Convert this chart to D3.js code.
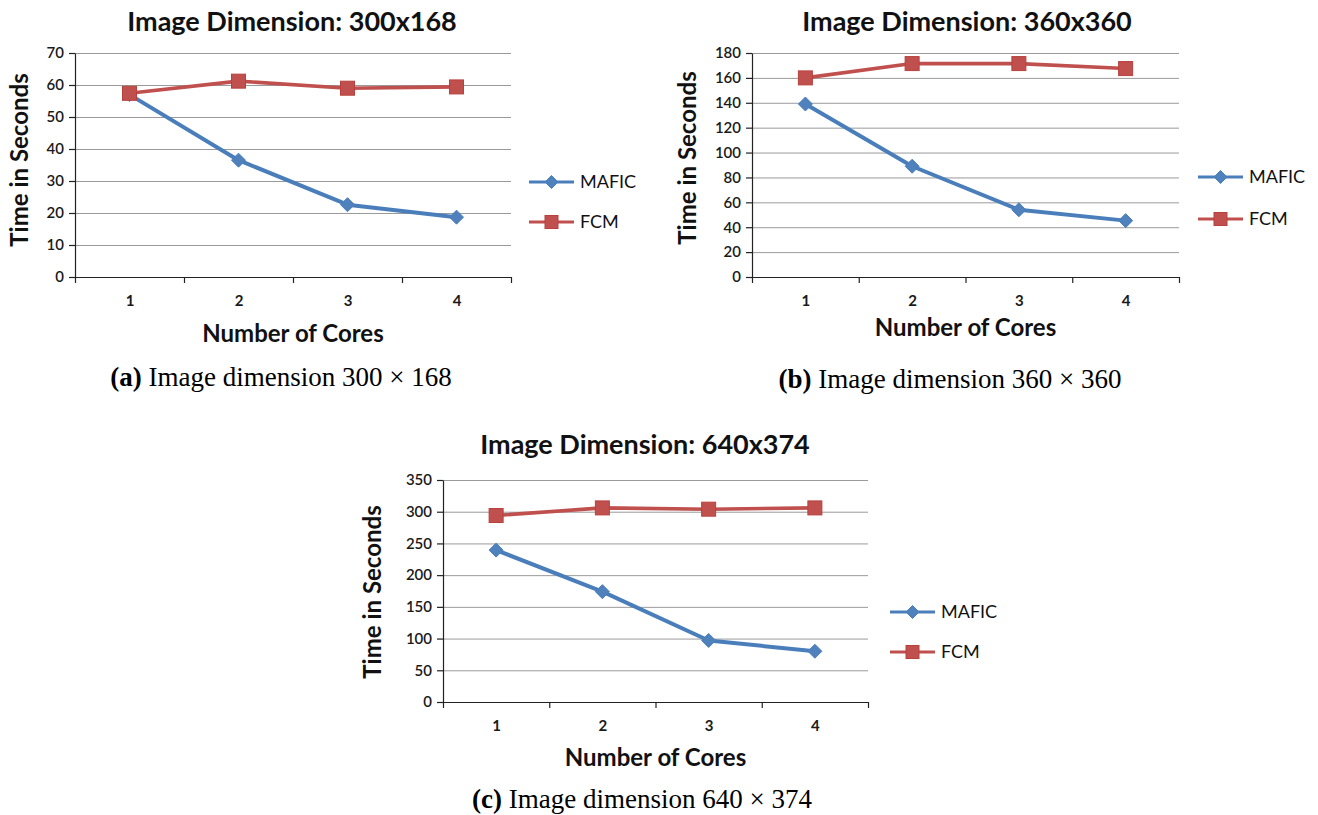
<!DOCTYPE html>
<html>
<head>
<meta charset="utf-8">
<script src="https://cdn.jsdelivr.net/npm/d3@7/dist/d3.min.js"></script>
<style>
  html, body { margin: 0; padding: 0; background: #fff; }
  svg { display: block; }
  .grid line { stroke: #9a9a9a; stroke-width: 1; }
  .grid path { display: none; }
  .eje path, .eje line { stroke: #222; stroke-width: 1.2; }
  .eje text { font-family: Lato, "Open Sans", sans-serif; fill: #1a1a1a; }
</style>
</head>
<body>
<svg id="lienzo" width="1318" height="815"></svg>
<script>
// tres graficos de linea (tiempo vs nucleos) en una sola lamina

var nucleos = [1, 2, 3, 4];
var nombresSeries = ["MAFIC", "FCM"];

// valores, en segundos
var maficA = [57.0, 36.5, 22.6, 18.7];
var fcmA = [57.4, 61.2, 59.0, 59.4];
var maficB = [139.0, 89.0, 54.0, 45.3];
var fcmB = [160.0, 171.5, 171.5, 167.5];
var maficC = [239.5, 174.0, 97.0, 80.0];
var fcmC = [294.0, 306.0, 304.0, 306.0];

var ticksA = [0, 10, 20, 30, 40, 50, 60, 70];
var ticksB = [0, 20, 40, 60, 80, 100, 120, 140, 160, 180];
var ticksC = [0, 50, 100, 150, 200, 250, 300, 350];

var titulos = ["Image Dimension: 300x168", "Image Dimension: 360x360", "Image Dimension: 640x374"];
var letras = ["(a)", "(b)", "(c)"];
var leyendas = ["Image dimension 300 \u00d7 168", "Image dimension 360 \u00d7 360", "Image dimension 640 \u00d7 374"];

var AZUL = "#4a7ebb";
var AZUL_MARCA = "#4f81bd";
var ROJO = "#c0504d";
var SANS = "Lato, 'Open Sans', sans-serif";
var SERIF = "'Liberation Serif', 'Times New Roman', serif";

var svg = d3.select("#lienzo");

// posiciones de cada panel, medidas sobre la imagen original
var paneles = [
  { mafic: maficA, fcm: fcmA, ticks: ticksA, i: 0,
    izq: 75, der: 511, arr: 53, abj: 277,
    tituloX: 292, tituloY: 31, ejeYX: 20, ejeYY: 160, ejeXY: 334,
    pieX: 281, pieY: 386, leyX: 529, leyY: [182, 222] },
  { mafic: maficB, fcm: fcmB, ticks: ticksB, i: 1,
    izq: 752, der: 1179, arr: 53, abj: 277,
    tituloX: 967, tituloY: 31, ejeYX: 688, ejeYY: 158, ejeXY: 328,
    pieX: 950, pieY: 388, leyX: 1198, leyY: [177, 219] },
  { mafic: maficC, fcm: fcmC, ticks: ticksC, i: 2,
    izq: 443, der: 868, arr: 480, abj: 702,
    tituloX: 645, tituloY: 454, ejeYX: 373, ejeYY: 592, ejeXY: 758,
    pieX: 642, pieY: 808, leyX: 890, leyY: [612, 652] }
];

function diamante(sel, cx, cy, r) {
  sel.append("path")
    .attr("d", "M" + cx + "," + (cy - r) + "L" + (cx + r) + "," + cy +
      "L" + cx + "," + (cy + r) + "L" + (cx - r) + "," + cy + "Z")
    .attr("fill", AZUL_MARCA)
    .attr("stroke", AZUL)
    .attr("stroke-width", 1);
}

function cuadrado(sel, cx, cy, l) {
  sel.append("rect")
    .attr("x", cx - l / 2).attr("y", cy - l / 2)
    .attr("width", l).attr("height", l)
    .attr("fill", ROJO)
    .attr("stroke", "#b8413e")
    .attr("stroke-width", 1);
}

function dibujarPanel(p) {
  var g = svg.append("g");
  var ymax = d3.max(p.ticks);

  var x = d3.scaleLinear().domain([0.5, 4.5]).range([p.izq, p.der]);
  var y = d3.scaleLinear().domain([0, ymax]).range([p.abj, p.arr]);

  // lineas de la grilla
  g.append("g")
    .attr("class", "grid")
    .attr("transform", "translate(" + p.izq + ",0)")
    .call(d3.axisLeft(y).tickValues(p.ticks.slice(1)).tickSize(-(p.der - p.izq)).tickFormat(""));

  // eje y
  var ejeY = g.append("g")
    .attr("class", "eje")
    .attr("transform", "translate(" + p.izq + ",0)")
    .call(d3.axisLeft(y).tickValues(p.ticks).tickSize(6).tickPadding(5).tickSizeOuter(0));
  ejeY.selectAll("text").attr("font-size", 15).attr("font-weight", 600);

  // eje x: marcas en los limites de cada categoria
  g.append("g")
    .attr("class", "eje")
    .attr("transform", "translate(0," + p.abj + ")")
    .call(d3.axisBottom(x).tickValues([0.5, 1.5, 2.5, 3.5, 4.5]).tickSize(6).tickFormat("").tickSizeOuter(0));

  var ejeX = g.append("g")
    .attr("class", "eje")
    .attr("transform", "translate(0," + p.abj + ")")
    .call(d3.axisBottom(x).tickValues(nucleos).tickSize(0).tickPadding(18).tickFormat(d3.format("d")));
  ejeX.select("path").remove();
  ejeX.selectAll("text").attr("font-size", 15).attr("font-weight", 700);

  // lineas de las series
  var linea = d3.line()
    .x(function (d, i) { return x(nucleos[i]); })
    .y(function (d) { return y(d); });

  g.append("path").datum(p.mafic)
    .attr("d", linea).attr("fill", "none")
    .attr("stroke", AZUL).attr("stroke-width", 4).attr("stroke-linejoin", "round");
  g.append("path").datum(p.fcm)
    .attr("d", linea).attr("fill", "none")
    .attr("stroke", ROJO).attr("stroke-width", 3.6).attr("stroke-linejoin", "round");

  p.mafic.forEach(function (v, i) { diamante(g, x(nucleos[i]), y(v), 7); });
  p.fcm.forEach(function (v, i) { cuadrado(g, x(nucleos[i]), y(v), 14); });

  // titulos
  g.append("text")
    .attr("x", p.tituloX).attr("y", p.tituloY)
    .attr("text-anchor", "middle")
    .attr("font-family", SANS).attr("font-weight", 700).attr("font-size", 27)
    .attr("fill", "#111")
    .text(titulos[p.i]);

  g.append("text")
    .attr("transform", "translate(" + p.ejeYX + "," + p.ejeYY + ") rotate(-90)")
    .attr("text-anchor", "middle").attr("dy", "0.35em")
    .attr("font-family", SANS).attr("font-weight", 700).attr("font-size", 24)
    .attr("fill", "#111")
    .text("Time in Seconds");

  g.append("text")
    .attr("x", (p.izq + p.der) / 2).attr("y", p.ejeXY)
    .attr("text-anchor", "middle").attr("dy", "0.35em")
    .attr("font-family", SANS).attr("font-weight", 700).attr("font-size", 24)
    .attr("fill", "#111")
    .text("Number of Cores");

  // leyenda
  var ley = g.append("g");
  nombresSeries.forEach(function (nombre, k) {
    var cy = p.leyY[k];
    var color = k === 0 ? AZUL : ROJO;
    ley.append("line")
      .attr("x1", p.leyX).attr("x2", p.leyX + 45)
      .attr("y1", cy).attr("y2", cy)
      .attr("stroke", color).attr("stroke-width", 2.8);
    if (k === 0) diamante(ley, p.leyX + 22.5, cy, 6.5);
    else cuadrado(ley, p.leyX + 22.5, cy, 13);
    ley.append("text")
      .attr("x", p.leyX + 51).attr("y", cy).attr("dy", "0.35em")
      .attr("font-family", SANS).attr("font-size", 18).attr("fill", "#111")
      .text(nombre);
  });

  // pie de figura
  var pie = g.append("text")
    .attr("x", p.pieX).attr("y", p.pieY)
    .attr("text-anchor", "middle")
    .attr("font-family", SERIF).attr("font-size", 27).attr("fill", "#000");
  pie.append("tspan").attr("font-weight", 700).text(letras[p.i]);
  pie.append("tspan").text(" " + leyendas[p.i]);
}

paneles.forEach(dibujarPanel);
</script>
</body>
</html>
